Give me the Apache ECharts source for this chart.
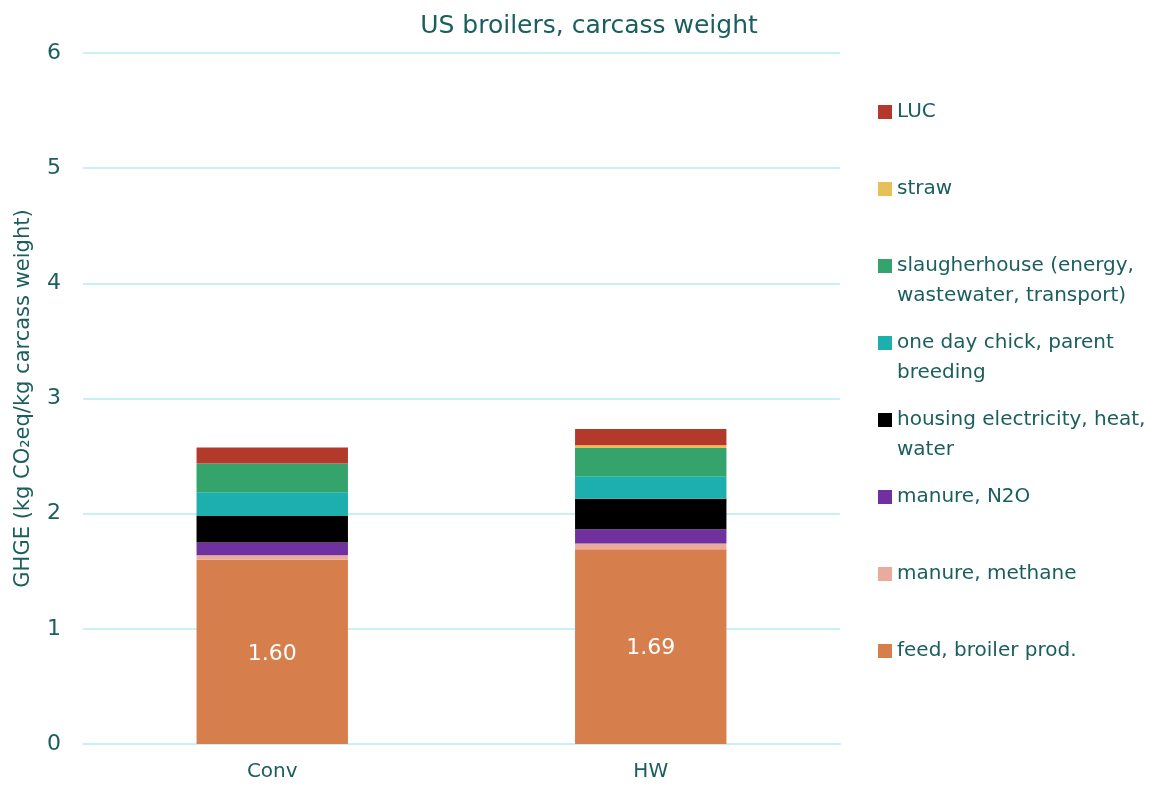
<!DOCTYPE html>
<html>
<head>
<meta charset="utf-8">
<script src="https://cdn.jsdelivr.net/npm/echarts@6/dist/echarts.min.js"></script>
<style>
  html, body { margin: 0; padding: 0; background: #fff; }
  #chart { width: 1159px; height: 787px; }
</style>
</head>
<body>
<div id="chart"></div>
<script>
// categories and stacked segment values (kg CO2eq / kg carcass weight)
const categories = ['Conv', 'HW'];
const feed = [1.60, 1.69];
const manureMethane = [0.04, 0.05];
const manureN2O = [0.11, 0.125];
const housing = [0.23, 0.265];
const chick = [0.205, 0.195];
const slaughterhouse = [0.25, 0.245];
const straw = [0, 0.025];
const luc = [0.14, 0.14];
const yTicks = [0, 1, 2, 3, 4, 5, 6];

const textColor = '#1b5e5e';
const fontFamily = '"DejaVu Sans", sans-serif';

// bottom to top
const seriesDefs = [
  { name: 'feed, broiler prod.', data: feed, color: '#d67f4c', label: true },
  { name: 'manure, methane', data: manureMethane, color: '#eaaa9c' },
  { name: 'manure, N2O', data: manureN2O, color: '#7030a0' },
  { name: 'housing electricity, heat,\nwater', data: housing, color: '#000000' },
  { name: 'one day chick, parent\nbreeding', data: chick, color: '#1daeae' },
  { name: 'slaugherhouse (energy,\nwastewater, transport)', data: slaughterhouse, color: '#34a36c' },
  { name: 'straw', data: straw, color: '#e8c05a' },
  { name: 'LUC', data: luc, color: '#b33a2a' }
];

const series = seriesDefs.map(s => ({
  name: s.name,
  type: 'bar',
  stack: 'total',
  barWidth: '40%',
  data: s.data,
  itemStyle: { color: s.color },
  label: s.label ? {
    show: true,
    position: 'inside',
    offset: [0, 2],
    color: '#fff',
    fontSize: 22,
    fontFamily,
    formatter: p => p.value.toFixed(2)
  } : { show: false },
  emphasis: { disabled: true }
}));

// one legend per item so that slots are evenly spaced like the original
const legendOrder = seriesDefs.slice().reverse();
const legends = legendOrder.map((s, i) => {
  const parts = s.name.split('\n');
  const center = 112 + i * 77;
  return {
    data: [s.name],
    orient: 'vertical',
    left: 878,
    top: center - 45,
    icon: 'rect',
    itemWidth: 14,
    itemHeight: 14,
    itemGap: 0,
    padding: 0,
    formatter: () => '\n' + parts[0] + '\n' + (parts[1] || ' '),
    textStyle: {
      color: textColor,
      fontSize: 20,
      fontFamily,
      lineHeight: 30,
      padding: [0, 0, 0, 0]
    }
  };
});

const chart = echarts.init(document.getElementById('chart'));
chart.setOption({
  animation: false,
  title: {
    text: 'US broilers, carcass weight',
    left: 584,
    textAlign: 'center',
    top: 9,
    textStyle: { color: textColor, fontSize: 25, fontWeight: 'normal', fontFamily }
  },
  legend: legends,
  grid: { left: 83, right: 319, top: 53, bottom: 43 },
  xAxis: {
    type: 'category',
    data: categories,
    axisLine: { show: true, lineStyle: { color: '#c8f2f2', width: 2 } },
    axisTick: { show: false },
    axisLabel: { color: textColor, fontSize: 20, fontFamily, margin: 18 }
  },
  yAxis: {
    type: 'value',
    min: 0,
    max: 6,
    interval: 1,
    axisLine: { show: false },
    axisTick: { show: false },
    splitLine: { lineStyle: { color: '#c8f2f2', width: 2 } },
    axisLabel: {
      color: textColor, fontSize: 22, fontFamily, margin: 22,
      formatter: v => yTicks.includes(v) ? String(v) : ''
    },
    name: 'GHGE (kg CO₂eq/kg carcass weight)',
    nameLocation: 'middle',
    nameGap: 49,
    nameTextStyle: { color: textColor, fontSize: 21, fontFamily }
  },
  series
});
</script>
</body>
</html>
